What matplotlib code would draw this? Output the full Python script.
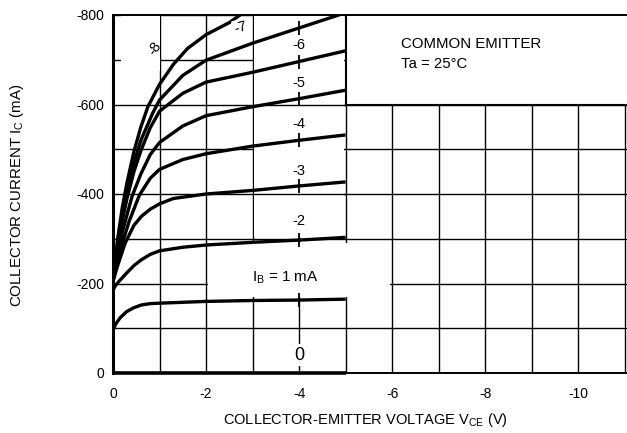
import numpy as np
import matplotlib.pyplot as plt
from matplotlib.patches import Rectangle
from matplotlib.ticker import MultipleLocator

plt.rcParams['font.family'] = ['Liberation Sans', 'DejaVu Sans']
plt.rcParams['axes.unicode_minus'] = False
plt.rcParams['mathtext.default'] = 'regular'

# IC - VCE curves, one per base current IB (mA)
ib0_v = [0, -5]
ib0_i = [0, 0]
ib1_v = [0, -0.05, -0.15, -0.29, -0.45, -0.61, -0.8, -1, -1.5, -2, -3, -4, -5]
ib1_i = [-95, -108, -123, -137, -146, -152, -155, -156, -158, -160, -162, -163, -165]
ib2_v = [0, -0.05, -0.13, -0.29, -0.45, -0.61, -0.8, -1, -1.5, -2, -3, -4, -5]
ib2_i = [-185, -195, -205, -223, -240, -253, -265, -273, -281, -286, -292, -297, -303]
ib3_v = [0, -0.1, -0.26, -0.45, -0.61, -0.8, -1, -1.3, -2, -3, -4, -5]
ib3_i = [-205, -240, -290, -330, -350, -366, -378, -390, -400, -408, -418, -427]
ib4_v = [0, -0.1, -0.2, -0.35, -0.57, -0.8, -1, -1.5, -2, -3, -4, -5]
ib4_i = [-205, -250, -290, -340, -398, -435, -455, -477, -490, -507, -520, -532]
ib5_v = [0, -0.1, -0.2, -0.41, -0.6, -0.8, -1, -1.5, -2, -3, -4, -5]
ib5_i = [-205, -265, -315, -395, -445, -488, -515, -552, -575, -595, -613, -632]
ib6_v = [0, -0.1, -0.2, -0.3, -0.45, -0.6, -0.8, -1, -1.5, -2, -3, -4, -5]
ib6_i = [-205, -280, -340, -390, -450, -497, -548, -585, -625, -650, -672, -696, -720]
ib7_v = [0, -0.1, -0.2, -0.3, -0.45, -0.6, -0.85, -1, -1.5, -2, -3, -4, -5]
ib7_i = [-205, -290, -355, -405, -470, -520, -580, -610, -665, -699, -737, -771, -805]
ib8_v = [0, -0.1, -0.2, -0.3, -0.45, -0.6, -0.75, -1, -1.3, -1.6, -2, -2.5, -2.8]
ib8_i = [-205, -300, -370, -425, -495, -550, -595, -645, -690, -725, -756, -783, -805]

curves = [(ib1_v, ib1_i), (ib2_v, ib2_i), (ib3_v, ib3_i), (ib4_v, ib4_i),
          (ib5_v, ib5_i), (ib6_v, ib6_i), (ib7_v, ib7_i), (ib8_v, ib8_i)]

x_ticks = [0, -2, -4, -6, -8, -10]
y_ticks = [0, -200, -400, -600, -800]

fig = plt.figure(figsize=(6.27, 4.33), dpi=100)
ax = fig.add_axes([113/627, 1-373/433, 1-113/627, (373-15)/433])
ax.set_xlim(0, -11.05)
ax.set_ylim(0, -800)

ax.set_xticks(x_ticks)
ax.set_yticks(y_ticks)
ax.set_xticklabels([str(t) for t in x_ticks])
ax.set_yticklabels([str(t) for t in y_ticks])
ax.xaxis.set_minor_locator(MultipleLocator(1))
ax.yaxis.set_minor_locator(MultipleLocator(100))
ax.tick_params(which='both', length=0, labelsize=10)
ax.tick_params(axis='x', pad=10)
ax.tick_params(axis='y', pad=6)
ax.set_axisbelow(True)
ax.grid(which='both', color='black', lw=1.0)

ax.spines['left'].set_linewidth(2.2)
for s in ['top', 'bottom']:
    ax.spines[s].set_linewidth(1.4)
ax.spines['right'].set_visible(False)

# blank areas of the original sheet where grid is removed
white = dict(facecolor='white', edgecolor='none', zorder=1)
ax.add_patch(Rectangle((-3.04, -305), -1.92, -500, **white))
ax.add_patch(Rectangle((-2.04, -170), -3.92, -120, **white))
ax.add_patch(Rectangle((-0.18, -675), -0.84, -130, **white))
ax.hlines([-400, -600], -3, -5, color='black', lw=1.0, zorder=1.5)

# COMMON EMITTER box
ax.add_patch(Rectangle((-5, -600), -7, -210, facecolor='white', edgecolor='black',
                       lw=1.5, zorder=1.6))
ax.text(-6.2, -735, 'COMMON EMITTER', fontsize=10.8, va='center', ha='left', zorder=5)
ax.text(-6.2, -690, 'Ta = 25\u00b0C', fontsize=10.8, va='center', ha='left', zorder=5)

# curves
ax.plot(ib0_v, ib0_i, color='black', lw=2.6, zorder=3, clip_on=False,
        solid_capstyle='butt')
for v, i in curves:
    ax.plot(v, i, color='black', lw=2.4, zorder=3, solid_capstyle='butt',
            solid_joinstyle='round')
    if v[-1] <= -4:
        ic4 = np.interp(4, -np.array(v), i)
        ax.plot([-4], [ic4], marker='|', color='black', ms=10, mew=1.3, zorder=3)

# curve labels
lab = dict(fontsize=10.5, ha='center', va='center', zorder=5)
ax.text(-4, -40, '0', fontsize=13, ha='center', va='center', zorder=5,
        bbox=dict(facecolor='white', edgecolor='none', pad=2))
ax.text(-3.7, -212, 'I$_B$ = 1 mA', fontsize=11, ha='center', va='center', zorder=5)
ax.text(-4, -340, '-2', **lab)
ax.text(-4, -452, '-3', **lab)
ax.text(-4, -557, '-4', **lab)
ax.text(-4, -647, '-5', **lab)
ax.text(-4, -733, '-6', **lab)
ax.text(-2.75, -772, '-7', rotation=15,
        bbox=dict(facecolor='white', edgecolor='none', pad=1), **lab)
ax.text(-0.9, -726, '-8', rotation=55, **lab)

ax.set_xlabel('COLLECTOR-EMITTER VOLTAGE V$_{CE}$ (V)', fontsize=10.5, va='center')
ax.xaxis.set_label_coords(0.492, -0.131)
ax.set_ylabel('COLLECTOR CURRENT I$_C$ (mA)', fontsize=10.8, va='center')
ax.yaxis.set_label_coords(-0.187, 0.497)

fig.savefig('out.png', dpi=100)
